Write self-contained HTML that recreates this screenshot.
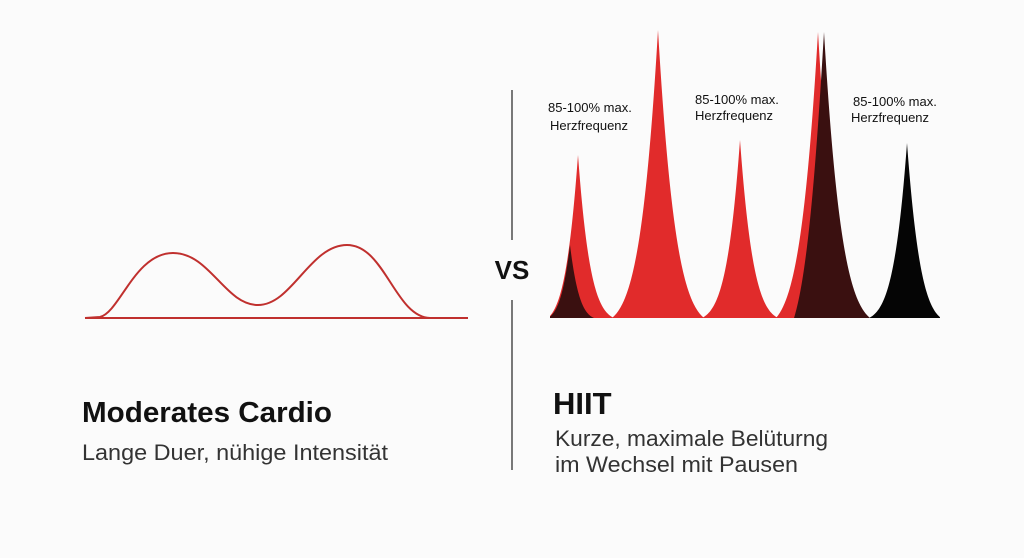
<!DOCTYPE html>
<html><head><meta charset="utf-8"><style>
html,body{margin:0;padding:0;background:#fbfbfb;}
svg{display:block}
text{font-family:"Liberation Sans",sans-serif;}
</style></head><body>
<svg id="s" width="1024" height="558" viewBox="0 0 1024 558">
<rect width="1024" height="558" fill="#fbfbfb"/>
<path d="M85,318 L100,317 C120,312 135,253 173,253 C210,253 225,305 258,305 C292,305 310,245 347,245 C385,245 395,317 430,318 L468,318" fill="none" stroke="#c0302e" stroke-width="2"/>
<line x1="85" y1="318" x2="468" y2="318" stroke="#c0302e" stroke-width="2"/>
<line x1="512" y1="90" x2="512" y2="240" stroke="#333" stroke-width="1.3"/>
<line x1="512" y1="300" x2="512" y2="470" stroke="#333" stroke-width="1.3"/>
<text x="512" y="279" text-anchor="middle" font-size="26" font-weight="bold" fill="#111">VS</text>
<g id="peaks"></g>
<g font-size="13" fill="#111">
<text x="548" y="112">85-100% max.</text><text x="550" y="130">Herzfrequenz</text>
<text x="695" y="104">85-100% max.</text><text x="695" y="120">Herzfrequenz</text>
<text x="853" y="106">85-100% max.</text><text x="851" y="122">Herzfrequenz</text>
</g>
<text x="82" y="422" font-size="29" font-weight="bold" fill="#111" textLength="250" lengthAdjust="spacingAndGlyphs">Moderates Cardio</text>
<text x="82" y="460" font-size="22" fill="#333" textLength="306" lengthAdjust="spacingAndGlyphs">Lange Duer, nühige Intensität</text>
<text x="553" y="414" font-size="31" font-weight="bold" fill="#111">HIIT</text>
<text x="555" y="446" font-size="22" fill="#333" textLength="273" lengthAdjust="spacingAndGlyphs">Kurze, maximale Belüturng</text>
<text x="555" y="472" font-size="22" fill="#333" textLength="243" lengthAdjust="spacingAndGlyphs">im Wechsel mit Pausen</text>
</svg>
<script>
var g=document.getElementById('peaks');
var B=318;
function peak(c,top,w,L,Rr,col){
 var h=B-top,x0=Math.max(550,c-L),x1=Math.min(940,c+Rr),d='M'+x0+','+B;
 for(var x=x0;x<=x1;x+=0.5){var dd=x-c,R=dd<0?L:Rr,q=Math.abs(dd)/R;var f=Math.exp(-Math.abs(dd)/w)*Math.max(0,1-q*q);var y=B-h*f;d+=' L'+x+','+y.toFixed(2);}
 d+=' L'+x1+','+B+' Z';
 var p=document.createElementNS('http://www.w3.org/2000/svg','path');p.setAttribute('d',d);p.setAttribute('fill',col);g.appendChild(p);
}
peak(578,155,12,30,36,'#e12b2b');
peak(570,245,9,22,24,'#3a1010');
peak(658,30,17,46,46,'#e12b2b');
peak(740,140,13,38,38,'#e12b2b');
peak(818,32,17,42,30,'#e12b2b');
peak(824,32,17,30,46,'#3a1010');
peak(907,143,13,38,34,'#050505');
</script>
</body></html>
